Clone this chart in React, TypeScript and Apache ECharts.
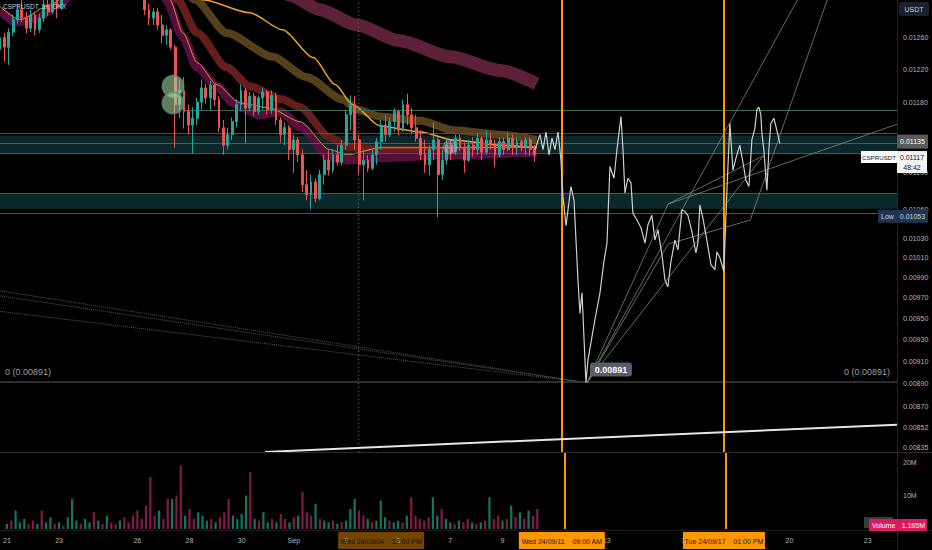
import React, { useEffect, useRef } from "react";
import * as echarts from "echarts";

// ---------- helpers ----------
const L = (p: number) => Math.log(p);
const U = 1e-5; // price arrays are in units of 0.00001 USDT

// ---------- axes ----------
const HOUR_MIN = -264; // Aug 21 00:00 (hours from Sep 1 00:00)
const HOUR_MAX = 555;
const PRICE_MIN = 0.008309;
const PRICE_MAX = 0.013086;
const VOLUME_MAX = 22.7e6;

const timeTickHours = [-264, -216, -144, -96, -48, 0, 48, 96, 144, 192, 288, 360, 456, 528];
const timeTickLabels = ["21", "23", "26", "28", "30", "Sep", "3", "5", "7", "9", "13", "16", "20", "23"];

const priceTicks = [0.0126, 0.0122, 0.0118, 0.0114, 0.011, 0.0106, 0.0103, 0.0101, 0.0099, 0.0097, 0.0095, 0.0093, 0.0091, 0.0089, 0.0087, 0.00852, 0.00835];
const volumeTicks = [10e6, 20e6];
const volumeTickLabels = ["10M", "20M"];

// ---------- candles (4h) : [open, close, low, high] ----------
const candleStartHour = -264;
const candleStepHours = 4;
const candles = [
  [1245, 1260, 1238, 1270], [1260, 1248, 1230, 1266], [1248, 1267, 1226, 1272], [1267, 1283, 1262, 1290], [1283, 1296, 1278, 1303],
  [1296, 1285, 1280, 1309], [1285, 1272, 1265, 1293], [1272, 1289, 1267, 1296], [1289, 1270, 1263, 1293], [1270, 1285, 1266, 1290],
  [1285, 1302, 1280, 1309], [1302, 1293, 1288, 1314], [1293, 1309, 1290, 1319], [1309, 1298, 1285, 1317], [1298, 1322, 1296, 1328],
  [1322, 1335, 1318, 1342], [1335, 1350, 1330, 1358], [1350, 1342, 1336, 1356], [1342, 1360, 1338, 1368], [1360, 1372, 1352, 1380],
  [1372, 1365, 1358, 1382], [1365, 1378, 1360, 1388], [1378, 1370, 1362, 1384], [1370, 1382, 1366, 1392], [1382, 1375, 1368, 1390],
  [1375, 1368, 1360, 1380], [1368, 1372, 1362, 1380], [1372, 1360, 1352, 1376], [1360, 1352, 1346, 1365], [1352, 1345, 1338, 1358],
  [1345, 1338, 1330, 1350], [1338, 1330, 1324, 1342], [1330, 1318, 1312, 1335], [1318, 1296, 1289, 1322], [1296, 1285, 1276, 1304],
  [1285, 1293, 1276, 1298], [1293, 1276, 1270, 1298], [1276, 1263, 1253, 1289], [1263, 1270, 1251, 1276], [1270, 1248, 1245, 1272],
  [1248, 1178, 1128, 1251], [1178, 1195, 1162, 1208], [1195, 1170, 1150, 1211], [1170, 1154, 1143, 1178], [1154, 1162, 1122, 1175],
  [1162, 1181, 1154, 1186], [1181, 1198, 1172, 1208], [1198, 1186, 1179, 1203], [1186, 1201, 1172, 1206], [1201, 1184, 1177, 1203],
  [1184, 1151, 1146, 1188], [1151, 1131, 1120, 1160], [1131, 1143, 1126, 1151], [1143, 1158, 1137, 1163], [1158, 1178, 1151, 1184],
  [1178, 1195, 1170, 1202], [1195, 1174, 1133, 1198], [1174, 1188, 1170, 1193], [1188, 1170, 1165, 1192], [1170, 1186, 1166, 1189],
  [1186, 1193, 1172, 1198], [1193, 1172, 1166, 1195], [1172, 1189, 1167, 1195], [1189, 1160, 1154, 1192], [1160, 1143, 1134, 1163],
  [1143, 1151, 1131, 1157], [1151, 1126, 1114, 1154], [1126, 1137, 1100, 1143], [1137, 1120, 1112, 1140], [1120, 1087, 1079, 1126],
  [1087, 1076, 1070, 1103], [1076, 1090, 1060, 1098], [1090, 1072, 1068, 1094], [1072, 1098, 1070, 1103], [1098, 1114, 1087, 1120],
  [1114, 1103, 1097, 1126], [1103, 1120, 1100, 1126], [1120, 1112, 1108, 1131], [1112, 1131, 1108, 1137], [1131, 1166, 1126, 1172],
  [1166, 1178, 1148, 1189], [1178, 1137, 1126, 1188], [1137, 1109, 1098, 1143], [1109, 1114, 1070, 1126], [1114, 1105, 1101, 1120],
  [1105, 1120, 1103, 1126], [1120, 1135, 1109, 1139], [1135, 1154, 1126, 1160], [1154, 1143, 1135, 1166], [1143, 1158, 1140, 1163],
  [1158, 1170, 1146, 1174], [1170, 1148, 1142, 1172], [1148, 1178, 1146, 1184], [1178, 1166, 1154, 1191], [1166, 1151, 1143, 1174],
  [1151, 1139, 1135, 1166], [1139, 1120, 1114, 1148], [1120, 1109, 1100, 1137], [1109, 1126, 1097, 1131], [1126, 1137, 1114, 1157],
  [1137, 1098, 1052, 1140], [1098, 1114, 1092, 1126], [1114, 1131, 1109, 1137], [1131, 1123, 1114, 1137], [1123, 1139, 1120, 1143],
  [1139, 1128, 1124, 1143], [1128, 1114, 1100, 1134], [1114, 1131, 1112, 1137], [1131, 1126, 1118, 1140], [1126, 1139, 1120, 1145],
  [1139, 1123, 1114, 1141], [1123, 1137, 1120, 1148], [1137, 1131, 1126, 1145], [1131, 1120, 1106, 1137], [1120, 1135, 1117, 1140],
  [1135, 1126, 1120, 1140], [1126, 1139, 1124, 1145], [1139, 1128, 1120, 1143], [1128, 1135, 1120, 1140], [1135, 1128, 1124, 1137],
  [1128, 1137, 1120, 1140], [1137, 1126, 1119, 1140], [1126, 1120, 1112, 1131],
];
// volume per candle, millions
const candleVolumesM = [
  1.5, 2.5, 5.5, 2, 3, 1.5, 2.5, 1.5, 5.5, 2,
  3.5, 1.5, 2, 1, 3.5, 9, 2.5, 1.5, 3, 2,
  5, 2.5, 1.5, 4, 2, 1.5, 2.5, 3.5, 2, 4,
  5.5, 3, 7, 15.5, 4, 5.5, 3, 9, 9, 10,
  19, 4, 6, 3, 5, 4, 2.5, 3, 2, 3.5,
  5, 9, 4, 3, 4.5, 10, 17, 3, 2.5, 5,
  2, 3, 2, 4.5, 3, 2, 3.5, 4, 11, 5,
  4, 7.5, 3, 2.5, 2, 2.5, 1.5, 2, 2.5, 6,
  9, 5.5, 4, 3, 2, 2.5, 8.5, 3.5, 2.5, 2,
  2.5, 2, 4, 9.5, 4, 3, 2.5, 3.5, 9.5, 4,
  6, 3, 2, 1.5, 2.5, 2, 3, 2, 1.5, 2,
  2.5, 9.5, 3, 4, 2.5, 3, 7, 3.5, 5, 3,
  5.5, 4, 6,
];

// ---------- white projected price line : [hour, price] ----------
const ghostLine = [
  [224.5, 1126], [229, 1143], [231.8, 1126], [234.5, 1146], [237.3, 1120], [240, 1139], [242.7, 1126], [245.5, 1146],
  [248.2, 1114], [250, 1074], [252.8, 1043], [257.3, 1085], [260.1, 1070], [263.7, 988], [265.5, 955], [267.4, 975],
  [271, 891], [272.8, 911], [276.5, 933], [279.2, 949], [283.8, 975], [287.4, 1006], [290.2, 1025], [292.9, 1107],
  [296.6, 1094], [299.3, 1126], [303, 1164], [304.8, 1126], [306.6, 1078], [309.3, 1094], [312.1, 1089], [313.9, 1056],
  [317.6, 1049], [321.2, 1041], [324.9, 1025], [327.6, 1044], [331.2, 1054], [334, 1028], [336.7, 1039], [340.4, 1013],
  [343.1, 988], [345.8, 981], [348.6, 1006], [352.2, 1028], [355, 1018], [358.6, 1060], [361.4, 1058], [364.1, 1054],
  [367.7, 1037], [371.4, 1015], [373.2, 1025], [375, 1065], [377.8, 1051], [381.4, 1028], [385.1, 1003], [388.7, 998],
  [390.6, 1016], [393.3, 1010], [396.9, 996], [399.7, 1081], [402.4, 1156], [405.2, 1103], [407.9, 1116], [411.5, 1131],
  [414.3, 1112], [417, 1092], [419.8, 1085], [422.5, 1137], [425.2, 1150], [427.1, 1172], [428.9, 1175], [430.7, 1166],
  [431.6, 1145], [433.4, 1126], [436.2, 1081], [438, 1126], [439.8, 1156], [442.6, 1162], [445.3, 1148], [448, 1133],
];

// ---------- moving averages : [hour, price] ----------
const maMaroon = [[-264, 1390], [-150, 1410], [-60, 1365], [-27, 1335], [1, 1315], [28, 1296], [62, 1276], [101, 1256], [147, 1236], [193, 1219], [226, 1203]];
const maOlive = [[-264, 1410], [-160, 1380], [-100, 1324], [-86, 1309], [-57, 1266], [-15, 1236], [16, 1211], [49, 1184], [62, 1172], [83, 1164], [120, 1159], [150, 1148], [193, 1143], [226, 1137]];
const maRed = [[-264, 1340], [-180, 1360], [-113, 1328], [-102, 1309], [-84, 1266], [-57, 1223], [-36, 1200], [-6, 1184], [10, 1175], [37, 1140], [53, 1129], [83, 1126], [147, 1126], [226, 1126]];
const maMagenta = [[-264, 1296], [-250, 1280], [-230, 1285], [-210, 1305], [-180, 1345], [-118, 1322], [-112, 1309], [-97, 1261], [-84, 1223], [-66, 1200], [-51, 1180], [-27, 1166], [-8, 1170], [10, 1152], [37, 1118], [53, 1114], [83, 1117], [147, 1120], [226, 1123]];
const maOrange = [[-264, 1400], [-160, 1370], [-100, 1319], [-79, 1309], [-36, 1292], [-6, 1270], [22, 1235], [42, 1202], [58, 1178], [83, 1153], [120, 1146], [150, 1137], [193, 1131], [226, 1128]];
const maFast = [[-264, 1300], [-246, 1283], [-218, 1302], [-200, 1319], [-164, 1362], [-113, 1315], [-109, 1309], [-97, 1266], [-84, 1229], [-66, 1202], [-45, 1180], [-18, 1174], [10, 1158], [37, 1126], [53, 1120], [83, 1128], [147, 1128], [226, 1129]];

// ---------- drawings ----------
const fibLeftLines = [
  [[-264, 977], [271, 891]],
  [[-264, 972], [271, 891]],
  [[-264, 957], [271, 891]],
];
const fanLines = [
  [[272, 891], [346, 1066], [555, 1155]],
  [[274, 894], [346, 1024], [421, 1049], [504, 1362]],
  [[272, 891], [484, 1362]],
  [[272, 891], [433, 1119]],
  [[346, 1066], [433, 1119]],
];
const bottomTrend = [[-22, 831], [555, 854]];
const greenRayStartHour = -97;
const greenRayPrice = 0.011714;
const zoneUpper = [0.01142, 0.01122];
const zoneLower = [0.01077, 0.01061];
const lastPrice = 0.01135;
const livePrice = 0.01117;
const lowPrice = 0.01053;
const fibZeroPrice = 0.00891;
const fibZeroHour = 271;
const currentVolume = 1.185e6;
const circleMarkers = [[-106, 1200], [-106, 1180]];
const ghostMarker = [[147, 1129]];
const orangeLineHours = [249, 397];
const dottedLineHour = 63;
const timeBoxes = [
  { hour: 84, width: 86, text: "Wed 24/09/04    12:00 PM", fill: "rgba(255,152,0,0.45)" },
  { hour: 249, width: 86, text: "Wed 24/09/11    09:00 AM", fill: "#ff9800" },
  { hour: 397, width: 82, text: "Tue 24/09/17    01:00 PM", fill: "#ff9800" },
];

const FONT = "Liberation Sans";

function pts(a: number[][]) {
  return a.map(([h, p]) => [h, L(p * U)]);
}

function maSeries(data: number[][], color: string, width: number, z: number) {
  return {
    type: "line", xAxisIndex: 0, yAxisIndex: 0, z, silent: true,
    data: pts(data), showSymbol: false, symbol: "none",
    smooth: 0.25, smoothMonotone: "x",
    lineStyle: { color, width, cap: "butt" },
  };
}

function plainLine(data: number[][], color: string, width: number, type: string, z: number, opacity = 1) {
  return {
    type: "line", xAxisIndex: 0, yAxisIndex: 0, z, silent: true,
    data: pts(data), showSymbol: false, symbol: "none",
    lineStyle: { color, width, type, opacity },
  };
}

function buildOption() {
  const orangeMarks = orangeLineHours.map((h) => ({ xAxis: h, lineStyle: { color: "#ff9800", width: 2, type: "solid" } }));
  return {
    animation: false,
    backgroundColor: "#000000",
    textStyle: { fontFamily: FONT },
    grid: [
      { left: 0, right: 35, top: 0, height: 452 },
      { left: 0, right: 35, top: 453, height: 76 },
    ],
    xAxis: [
      { gridIndex: 0, type: "value", min: HOUR_MIN, max: HOUR_MAX, show: false },
      {
        gridIndex: 1, type: "value", min: HOUR_MIN, max: HOUR_MAX,
        axisLine: { show: false }, axisTick: { show: false }, splitLine: { show: false },
        axisLabel: {
          customValues: timeTickHours,
          formatter: (v: number) => {
            const i = timeTickHours.indexOf(Math.round(v));
            return i >= 0 ? timeTickLabels[i] : "";
          },
          color: "#b2b5be", fontSize: 7, margin: 8, fontFamily: FONT,
        },
      },
    ],
    yAxis: [
      {
        gridIndex: 0, type: "value", position: "right", min: L(PRICE_MIN), max: L(PRICE_MAX),
        axisLine: { show: false }, axisTick: { show: false }, splitLine: { show: false },
        axisLabel: {
          customValues: priceTicks.map(L),
          formatter: (v: number) => Math.exp(v).toFixed(5),
          color: "#b2b5be", fontSize: 7, margin: 6, fontFamily: FONT,
        },
      },
      {
        gridIndex: 1, type: "value", position: "right", min: 0, max: VOLUME_MAX,
        axisLine: { show: false }, axisTick: { show: false }, splitLine: { show: false },
        axisLabel: {
          customValues: volumeTicks,
          formatter: (v: number) => {
            const i = volumeTicks.indexOf(Math.round(v));
            return i >= 0 ? volumeTickLabels[i] : "";
          },
          color: "#b2b5be", fontSize: 7, margin: 6, fontFamily: FONT,
        },
      },
    ],
    series: [
      {
        type: "line", xAxisIndex: 0, yAxisIndex: 0, z: 1, silent: true,
        data: [[HOUR_MIN, L(0.009)], [HOUR_MAX, L(0.009)]],
        showSymbol: false, symbol: "none", lineStyle: { opacity: 0 },
        markArea: {
          silent: true,
          itemStyle: { color: "#0a2729", borderWidth: 0 },
          data: [
            [{ yAxis: L(zoneUpper[0]) }, { yAxis: L(zoneUpper[1]) }],
            [{ yAxis: L(zoneLower[0]) }, { yAxis: L(zoneLower[1]) }],
          ],
        },
        markLine: {
          silent: true, symbol: ["none", "none"], label: { show: false },
          data: [
            { yAxis: L(zoneUpper[0]), lineStyle: { color: "#35614a", width: 1, type: "solid" } },
            { yAxis: L(zoneUpper[1]), lineStyle: { color: "#35614a", width: 1, type: "solid" } },
            { yAxis: L(zoneLower[0]), lineStyle: { color: "#35614a", width: 1, type: "solid" } },
            { yAxis: L(zoneLower[1]), lineStyle: { color: "#35614a", width: 1, type: "solid" } },
            { yAxis: L(lastPrice), lineStyle: { color: "#46587a", width: 1, type: "solid" } },
            { yAxis: L(fibZeroPrice), lineStyle: { color: "#3c3c3c", width: 1.5, type: "solid" } },
            [
              { coord: [greenRayStartHour, L(greenRayPrice)], lineStyle: { color: "#3d6a4a", width: 1.2, type: "solid" } },
              { coord: [HOUR_MAX, L(greenRayPrice)] },
            ],
            { xAxis: dottedLineHour, lineStyle: { color: "#5e5e5e", width: 1.3, type: [1, 3] } },
            ...orangeMarks,
          ],
        },
      },
      ...fibLeftLines.map((l) => plainLine(l, "#555555", 1, "dotted", 2)),
      maSeries(maMaroon, "#5c2039", 13, 2),
      maSeries(maOlive, "#54401c", 8, 2),
      maSeries(maRed, "#651e1c", 8, 2),
      maSeries(maMagenta, "#560f3c", 9, 2),
      maSeries(maOrange, "#f0a22c", 1.5, 3),
      maSeries(maFast, "#e09030", 1, 3),
      {
        type: "candlestick", xAxisIndex: 0, yAxisIndex: 0, z: 5, barWidth: 2.4,
        data: candles.map((c, i) => [candleStartHour + i * candleStepHours, L(c[0] * U), L(c[1] * U), L(c[2] * U), L(c[3] * U)]),
        encode: { x: 0, y: [1, 2, 3, 4] },
        itemStyle: { color: "#26a69a", color0: "#ef5350", borderColor: "#26a69a", borderColor0: "#ef5350", borderWidth: 1 },
      },
      ...fanLines.map((l) => plainLine(l, "#8a8a8a", 1, "solid", 6, 0.75)),
      plainLine(bottomTrend, "#e6e6e6", 2, "solid", 6),
      plainLine(ghostLine, "#cfcfcf", 1.2, "solid", 7),
      {
        type: "scatter", xAxisIndex: 0, yAxisIndex: 0, z: 8, silent: true,
        data: pts(circleMarkers), symbolSize: 21,
        itemStyle: { color: "rgba(168,214,172,0.72)", borderColor: "#5f8f68", borderWidth: 2 },
      },
      {
        type: "scatter", xAxisIndex: 0, yAxisIndex: 0, z: 8, silent: true,
        data: pts(ghostMarker), symbolSize: 15,
        itemStyle: { color: "rgba(200,200,235,0.45)" },
      },
      {
        type: "bar", xAxisIndex: 1, yAxisIndex: 1, barWidth: 2.2, silent: true,
        data: candleVolumesM.map((v, i) => ({
          value: [candleStartHour + i * candleStepHours, v * 1e6],
          itemStyle: { color: candles[i][1] >= candles[i][0] ? "#12755f" : "#821a47" },
        })),
        markLine: {
          silent: true, symbol: ["none", "none"], label: { show: false },
          data: orangeMarks,
        },
      },
    ],
  };
}

function buildGraphic(chart: any) {
  const px = (h: number) => chart.convertToPixel({ xAxisIndex: 0 }, h) as number;
  const py = (p: number) => chart.convertToPixel({ yAxisIndex: 0 }, L(p)) as number;
  const pv = (v: number) => chart.convertToPixel({ yAxisIndex: 1 }, v) as number;
  const els: any[] = [];
  const rect = (x: number, y: number, w: number, h: number, fill: string, r = 0) =>
    els.push({ type: "rect", z: 100, silent: true, shape: { x, y, width: w, height: h, r }, style: { fill } });
  const text = (x: number, y: number, t: string, fill: string, size: number, align = "left", weight = "normal") =>
    els.push({ type: "text", z: 101, silent: true, x, y, style: { text: t, fill, fontSize: size, fontFamily: FONT, align, verticalAlign: "middle", fontWeight: weight } });
  const line = (x1: number, y1: number, x2: number, y2: number, stroke: string) =>
    els.push({ type: "line", z: 99, silent: true, shape: { x1, y1, x2, y2 }, style: { stroke, lineWidth: 1 } });

  // pane frames
  line(0, 452.5, 932, 452.5, "#2b2b2b");
  line(0, 530.5, 932, 530.5, "#1c1c1c");
  line(897.5, 0, 897.5, 550, "#262626");

  // title
  text(3, 6, "CSPRUSDT, 1h, OKX", "#c9c9c9", 6.5);

  // currency box
  rect(899, 2, 30, 14, "#1c2130", 2);
  text(914, 9, "USDT", "#c8cbd3", 7, "center");

  // last price label
  const yLast = py(lastPrice);
  rect(897, yLast - 7, 31, 14, "#5b5b5b");
  text(912.5, yLast, "0.01135", "#ffffff", 7, "center");

  // live price label
  const yLive = py(livePrice);
  rect(861, yLive - 6.5, 36, 12, "#ffffff");
  text(879, yLive - 0.5, "CSPRUSDT", "#131722", 6.2, "center");
  rect(897, yLive - 6.5, 30, 22, "#f2f2f2");
  text(912, yLive - 0.5, "0.01117", "#131722", 7, "center");
  text(912, yLive + 9.5, "48:42", "#131722", 7, "center");

  // low label
  const yLow = py(lowPrice);
  rect(878, yLow - 6.5, 19, 13, "#1d3553");
  text(887.5, yLow, "Low", "#d1d4dc", 7, "center");
  rect(897, yLow - 6.5, 31, 13, "#1d3553");
  text(912.5, yLow, "0.01053", "#d1d4dc", 7, "center");

  // fib 0 labels
  const yFib = py(fibZeroPrice);
  text(5, yFib - 11, "0 (0.00891)", "#9a9ca3", 9);
  text(890, yFib - 11, "0 (0.00891)", "#9a9ca3", 9, "right");
  const bx = px(fibZeroHour) + 4;
  rect(bx, yFib - 20, 42, 14, "#5a5d66", 3);
  text(bx + 21, yFib - 13, "0.00891", "#ffffff", 9, "center", "bold");

  // volume label
  const yVol = pv(currentVolume);
  rect(864, yVol - 8, 29, 11, "#3a3a3a");
  rect(869, yVol - 6, 58, 12, "#d81b60");
  text(872, yVol, "Volume", "#ffffff", 7);
  text(925, yVol, "1.185M", "#ffffff", 7, "right");

  // time boxes
  timeBoxes.forEach((b) => {
    const cx = px(b.hour);
    rect(cx - b.width / 2, 532, b.width, 17, b.fill);
    text(cx, 541, b.text, "#131313", 7, "center");
  });
  return els;
}

export default function App() {
  const ref = useRef<HTMLDivElement>(null);
  useEffect(() => {
    document.body.style.margin = "0";
    document.body.style.background = "#000";
    document.documentElement.style.background = "#000";
    const chart = echarts.init(ref.current!, null, { renderer: "svg" });
    chart.setOption(buildOption() as any);
    chart.setOption({ graphic: buildGraphic(chart) } as any);
    return () => chart.dispose();
  }, []);
  return <div ref={ref} style={{ width: 932, height: 550, background: "#000" }} />;
}
